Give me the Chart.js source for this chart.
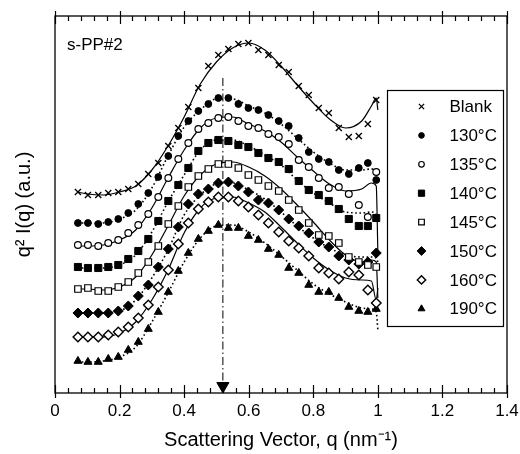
<!DOCTYPE html>
<html>
<head>
<meta charset="utf-8">
<script src="https://cdn.jsdelivr.net/npm/chart.js@4.4.1/dist/chart.umd.min.js"></script>
<style>
  html, body { margin: 0; padding: 0; background: #fff; }
</style>
</head>
<body>
<canvas id="saxs" width="520" height="454"></canvas>
<script>
// measured points (q in nm^-1, q^2 I(q) in a.u.)
const q = [0.071,0.102,0.134,0.165,0.196,0.227,0.258,0.289,0.320,0.351,0.382,0.413,0.444,0.475,0.506,0.537,0.568,0.599,0.630,0.661,0.693,0.724,0.755,0.786,0.817,0.848,0.879,0.910,0.941,0.969,0.995];
const blank = [20.1,19.8,19.8,20.0,20.1,20.4,20.9,21.9,23.0,24.7,26.5,28.6,30.5,32.7,33.8,34.4,34.9,35.0,34.3,33.8,32.8,32.1,30.7,29.8,28.5,28.0,26.5,25.6,25.7,26.9,29.3];
const t130  = [17.0,17.0,16.9,17.1,17.4,18.0,18.9,20.0,21.6,23.7,25.7,27.2,28.2,28.9,29.5,29.5,28.9,28.5,28.3,27.8,27.2,26.7,25.5,24.1,23.4,23.1,22.3,21.9,22.5,23.0,21.3];
const t135  = [14.8,14.8,14.7,15.0,15.3,16.0,16.8,17.9,19.6,21.5,23.4,25.0,26.4,27.0,27.5,27.6,27.2,26.7,26.5,25.9,25.6,24.9,23.3,22.6,21.5,20.5,20.6,19.9,18.8,17.6,22.1];
const t140  = [12.6,12.5,12.5,12.6,12.8,13.4,14.2,15.4,17.2,19.2,20.8,22.5,24.2,25.0,25.3,25.2,24.8,24.6,24.0,23.5,23.1,22.4,21.2,20.3,19.8,19.2,18.4,17.4,16.7,16.7,17.5];
const t145  = [10.4,10.5,10.2,10.2,10.6,11.1,12.0,13.1,14.7,16.9,18.7,20.6,21.7,22.4,22.9,22.9,22.5,21.8,21.3,20.7,20.2,19.3,18.3,17.0,15.8,15.7,15.0,13.6,13.1,12.8,12.6];
const t150  = [8.0,8.0,8.0,8.0,8.2,8.7,9.7,10.8,12.6,14.4,16.6,18.9,19.9,20.4,21.0,21.1,20.7,20.1,19.3,19.0,18.3,17.4,16.7,16.0,15.1,14.6,13.7,13.3,12.9,13.1,14.0];
const t160  = [5.6,5.6,5.6,5.8,6.1,6.6,7.5,8.8,10.6,12.3,14.9,17.0,18.4,19.1,19.6,19.6,19.2,18.6,17.8,17.0,16.1,15.2,14.5,13.7,12.5,12.0,11.4,12.1,11.8,10.3,9.0];
const t190  = [3.2,3.1,3.1,3.4,3.6,4.3,5.1,6.4,8.1,10.1,12.2,14.0,15.4,16.2,16.8,16.5,16.5,15.7,15.3,14.4,13.8,12.5,12.0,10.8,10.1,10.1,9.5,8.6,8.2,8.1,8.4];

// fitted curves
const fitQ = [0.07,0.10,0.15,0.20,0.25,0.30,0.35,0.40,0.45,0.50,0.55,0.60,0.65,0.70,0.75,0.80,0.85,0.90,0.95,0.98,0.995,1.0];
const fitBlank = [20.1,19.9,19.8,20.1,20.7,22.3,24.7,27.6,30.9,33.1,34.5,35.0,34.3,32.7,30.8,29.0,27.4,26.5,27.2,28.7,29.5,28.3];
const fit130   = [17.0,17.0,17.0,17.4,18.3,20.5,23.7,26.6,28.3,29.4,29.4,28.7,28.0,26.9,25.5,24.1,23.0,22.3,22.3,22.4,22.1,21.3];
const fit135   = [14.7,14.7,14.8,15.3,16.3,18.5,21.5,24.3,26.5,27.5,27.6,26.9,26.2,25.1,23.6,22.2,20.9,20.2,20.4,21.0,20.7,14.1];
const fit140   = [12.5,12.5,12.5,12.8,13.8,16.1,19.1,21.8,24.3,25.3,25.3,24.7,23.8,22.8,21.3,20.0,19.0,18.1,18.0,18.1,17.8,17.1];
const fit145   = [10.4,10.4,10.3,10.6,11.6,13.8,16.7,19.7,21.8,22.9,23.1,22.6,21.7,20.4,18.8,17.1,15.3,13.8,13.1,13.3,13.1,9.5];
const fit150   = [8.0,8.0,8.0,8.2,9.3,11.5,14.3,17.8,19.8,20.9,21.0,20.3,19.4,18.1,16.7,15.5,14.5,13.8,13.6,13.6,13.5,13.1];
const fit160   = [5.6,5.6,5.6,6.0,7.1,9.3,12.3,16.0,18.5,19.5,19.6,19.0,18.1,16.6,15.0,13.5,12.3,11.5,11.3,11.2,9.3,10.5];
const fit190   = [3.1,3.1,3.2,3.6,4.6,7.1,10.0,13.1,15.5,16.7,16.8,16.1,15.0,13.7,12.3,10.9,9.9,9.1,8.5,8.4,8.1,6.3];

const labels = ["Blank", "130°C", "135°C", "140°C", "145°C", "150°C", "160°C", "190°C"];
const peakQ = 0.52;

const FONT = '"Liberation Sans", Arial, Helvetica, sans-serif';
const toXY = (xs, ys) => xs.map((x, i) => ({ x, y: ys[i] }));

const marks = [blank, t130, t135, t140, t145, t150, t160, t190];
const fits  = [fitBlank, fit130, fit135, fit140, fit145, fit150, fit160, fit190];
const look = [
  { style: "crossRot", r: 4.3, fill: "#000", bw: 1.3, dotted: false },
  { style: "circle",   r: 3.4, fill: "#000", bw: 1,   dotted: true  },
  { style: "circle",   r: 3.4, fill: "#fff", bw: 1.2, dotted: false },
  { style: "rect",     r: 5,   fill: "#000", bw: 1,   dotted: true  },
  { style: "rect",     r: 4.6, fill: "#fff", bw: 1.2, dotted: false },
  { style: "rectRot",  r: 5,   fill: "#000", bw: 1,   dotted: true  },
  { style: "rectRot",  r: 4.8, fill: "#fff", bw: 1.4, dotted: false },
  { style: "triangle", r: 4.6, fill: "#000", bw: 1,   dotted: true  },
];

const curveSets = fits.map((f, i) => ({
  label: labels[i] + " fit", data: toXY(fitQ, f), showLine: true,
  borderColor: "#000", borderWidth: look[i].dotted ? 1.6 : 1.2,
  borderDash: look[i].dotted ? [1.6, 2.6] : [],
  pointRadius: 0, cubicInterpolationMode: "monotone", order: 2,
}));
const markSets = marks.map((m, i) => ({
  label: labels[i], data: toXY(q, m), showLine: false,
  pointStyle: look[i].style, pointRadius: look[i].r, pointHoverRadius: look[i].r,
  pointBackgroundColor: look[i].fill, pointBorderColor: "#000", pointBorderWidth: look[i].bw,
  order: 1,
}));
const peakLine = {
  label: "peak", data: [{ x: peakQ, y: 31.5 }, { x: peakQ, y: 0 }], showLine: true,
  borderColor: "#000", borderWidth: 1, borderDash: [8, 3, 1.5, 3], pointRadius: 0, order: 3,
};
const peakArrow = {
  label: "arrow", data: [{ x: peakQ, y: 0.7 }], showLine: false,
  pointStyle: "triangle", rotation: 180, pointRadius: 7, pointBackgroundColor: "#000",
  pointBorderColor: "#000", pointBorderWidth: 1, order: 0,
};

// box, inward ticks on top and bottom axes
const frameTicks = {
  id: "frameTicks",
  afterDraw(chart) {
    const { ctx, chartArea: a, scales: { x } } = chart;
    ctx.save();
    ctx.strokeStyle = "#000";
    ctx.lineWidth = 1.3;
    ctx.strokeRect(a.left, a.top, a.right - a.left, a.bottom - a.top);
    ctx.lineWidth = 1.2;
    for (let k = 0; k <= 35; k++) {
      const px = Math.round(x.getPixelForValue(k * 0.04)) + 0.5;
      const major = k % 5 === 0;
      const inLen = major ? 8 : 5, outLen = major ? 5 : 0;
      ctx.beginPath();
      ctx.moveTo(px, a.bottom + outLen); ctx.lineTo(px, a.bottom - inLen);
      ctx.moveTo(px, a.top - outLen);    ctx.lineTo(px, a.top + inLen);
      ctx.stroke();
    }
    ctx.fillStyle = "#000";
    ctx.font = "17px " + FONT;
    ctx.textBaseline = "alphabetic";
    ctx.fillText("s-PP#2", a.left + 12, a.top + 34);
    ctx.restore();
  }
};

const boxLegend = {
  id: "boxLegend",
  afterDraw(chart) {
    const { ctx, chartArea: a } = chart;
    const bx = a.right - 119.5, by = a.top + 74.5, bw = 116, bh = 236;
    ctx.save();
    ctx.fillStyle = "#fff";
    ctx.fillRect(bx, by, bw, bh);
    ctx.strokeStyle = "#000";
    ctx.lineWidth = 1.2;
    ctx.strokeRect(bx, by, bw, bh);
    ctx.font = "17px " + FONT;
    ctx.textBaseline = "middle";
    markSets.forEach((ds, i) => {
      const y = by + 16 + i * 28.9;
      ctx.fillStyle = ds.pointBackgroundColor;
      ctx.strokeStyle = "#000";
      ctx.lineWidth = ds.pointBorderWidth;
      Chart.helpers.drawPoint(ctx, { pointStyle: ds.pointStyle, radius: ds.pointRadius - 0.6, rotation: 0, borderWidth: ds.pointBorderWidth }, bx + 34, y);
      ctx.fillStyle = "#000";
      ctx.fillText(ds.label, bx + 62, y + 1);
    });
    ctx.restore();
  }
};

new Chart(document.getElementById("saxs"), {
  type: "scatter",
  data: { datasets: [...curveSets, ...markSets, peakLine, peakArrow] },
  options: {
    responsive: false,
    animation: false,
    layout: { padding: { top: 16, right: 13, left: 0, bottom: 0 } },
    plugins: { legend: { display: false }, tooltip: { enabled: false } },
    scales: {
      x: {
        type: "linear", min: 0, max: 1.4,
        afterFit: s => { s.height = 61; s.paddingLeft = 0; s.paddingRight = 0; },
        grid: { display: false, drawTicks: false },
        border: { display: false },
        ticks: {
          stepSize: 0.2, padding: 8, color: "#000",
          font: { family: FONT, size: 17 },
          callback: v => String(Number(v.toFixed(1))),
        },
        title: {
          display: true, text: "Scattering Vector, q (nm⁻¹)", color: "#000",
          font: { family: FONT, size: 20 }, padding: { top: 0, bottom: 2 },
        },
      },
      y: {
        min: 0, max: 37.7,
        afterFit: s => { s.width = 55; s.paddingTop = 0; s.paddingBottom = 0; },
        grid: { display: false, drawTicks: false },
        border: { display: false },
        ticks: { display: false },
        title: {
          display: true, text: "q² I(q) (a.u.)", color: "#000",
          font: { family: FONT, size: 20 }, padding: { top: 12, bottom: 0 },
        },
      },
    },
  },
  plugins: [frameTicks, boxLegend],
});
</script>
</body>
</html>
